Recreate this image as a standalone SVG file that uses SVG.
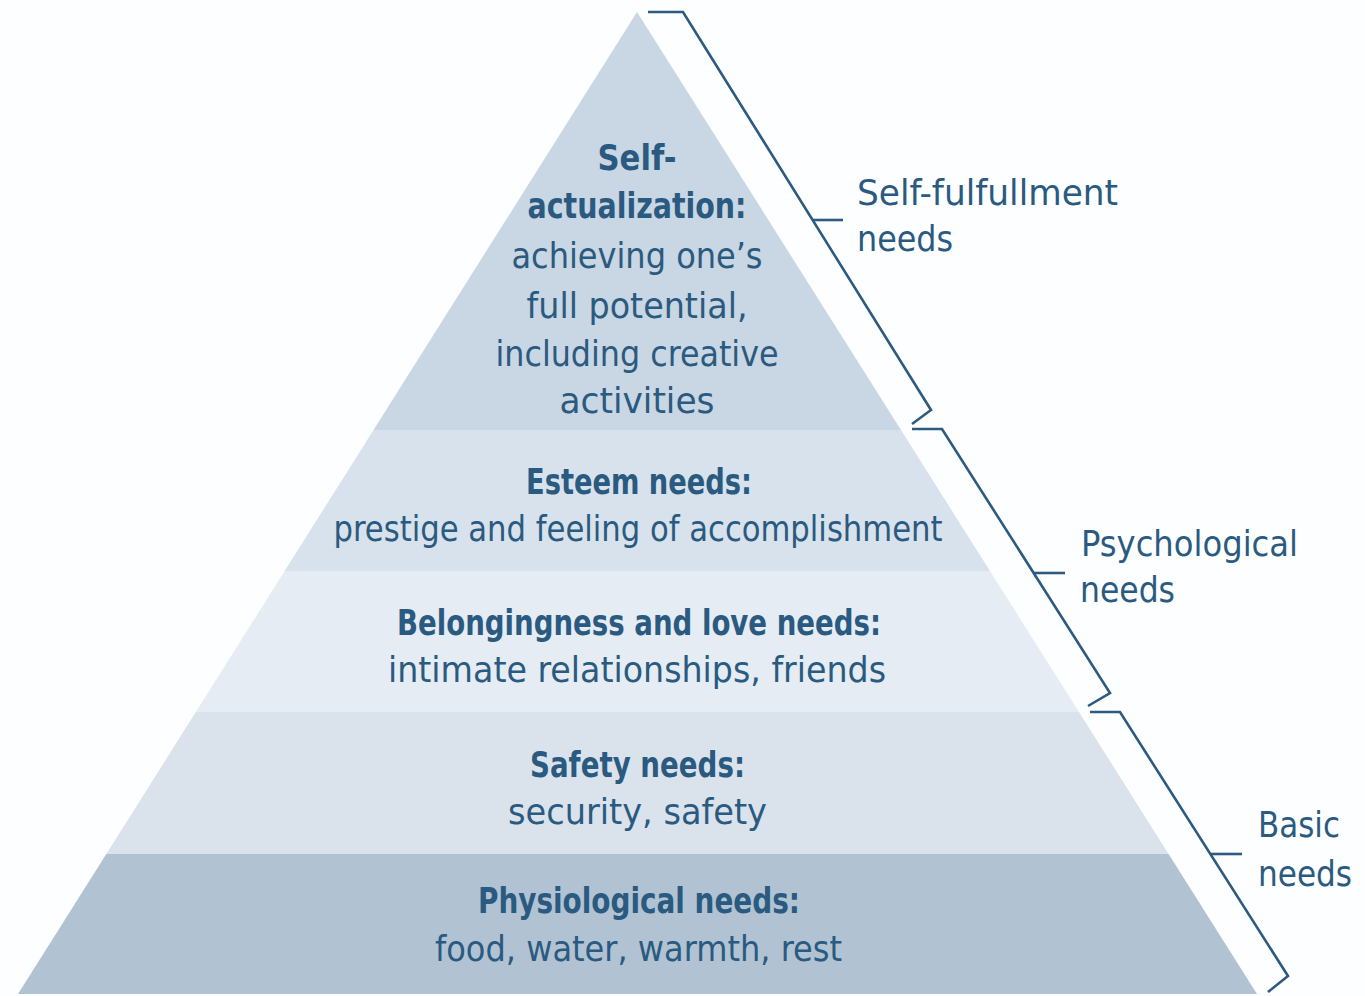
<svg xmlns="http://www.w3.org/2000/svg" width="1365" height="996" viewBox="0 0 1365 996">
<style>
.t{font-family:"Liberation Sans Narrow","DejaVu Sans Condensed","Liberation Sans",sans-serif;font-size:36px;fill:#2b5a80;text-anchor:middle}
.b{font-weight:bold}
.l{text-anchor:start}
.br{fill:none;stroke:#2d5a7e;stroke-width:2.6;stroke-linejoin:miter}
</style>
<rect width="1365" height="996" fill="#fdfeff"/>
<g id="level-self-actualization">
<polygon points="637,12 901,430 373.5,430" fill="#c9d6e3"/>
<text class="t b" x="637" y="170" textLength="79" lengthAdjust="spacingAndGlyphs">Self-</text>
<text class="t b" x="637" y="218" textLength="219" lengthAdjust="spacingAndGlyphs">actualization:</text>
<text class="t" x="637" y="268" textLength="251" lengthAdjust="spacingAndGlyphs">achieving one’s</text>
<text class="t" x="637" y="318" textLength="221" lengthAdjust="spacingAndGlyphs">full potential,</text>
<text class="t" x="637" y="366" textLength="283" lengthAdjust="spacingAndGlyphs">including creative</text>
<text class="t" x="637" y="413" textLength="155" lengthAdjust="spacingAndGlyphs">activities</text>
</g>
<g id="level-esteem">
<polygon points="373.5,430 901,430 990,571 284.7,571" fill="#d8e2ec"/>
<text class="t b" x="639" y="494" textLength="226" lengthAdjust="spacingAndGlyphs">Esteem needs:</text>
<text class="t" x="638" y="541" textLength="609" lengthAdjust="spacingAndGlyphs">prestige and feeling of accomplishment</text>
</g>
<g id="level-belongingness">
<polygon points="284.7,571 990,571 1079,712 195.8,712" fill="#e5ecf4"/>
<text class="t b" x="639" y="635" textLength="484" lengthAdjust="spacingAndGlyphs">Belongingness and love needs:</text>
<text class="t" x="637" y="682" textLength="498" lengthAdjust="spacingAndGlyphs">intimate relationships, friends</text>
</g>
<g id="level-safety">
<polygon points="195.8,712 1079,712 1168.6,854 106.3,854" fill="#dae3ec"/>
<text class="t b" x="637.5" y="777" textLength="215" lengthAdjust="spacingAndGlyphs">Safety needs:</text>
<text class="t" x="637.5" y="824" textLength="259" lengthAdjust="spacingAndGlyphs">security, safety</text>
</g>
<g id="level-physiological">
<polygon points="106.3,854 1168.6,854 1257,994 18,994" fill="#b1c3d3"/>
<text class="t b" x="639" y="913" textLength="322" lengthAdjust="spacingAndGlyphs">Physiological needs:</text>
<text class="t" x="638.5" y="961" textLength="407" lengthAdjust="spacingAndGlyphs">food, water, warmth, rest</text>
</g>
<g id="connectors">
<path class="br" d="M648,12 H683 L931,410 L912,424"/>
<path class="br" d="M813,220 H843"/>
<path class="br" d="M912,429 H942 L1110,693 L1088,706"/>
<path class="br" d="M1034,573 H1065"/>
<path class="br" d="M1090,712 H1120 L1288,976 L1268,992"/>
<path class="br" d="M1211,854 H1242"/>
</g>
<g id="label-self-fulfillment">
<text class="t l" x="857" y="205" textLength="261" lengthAdjust="spacingAndGlyphs">Self-fulfullment</text>
<text class="t l" x="857" y="251" textLength="96" lengthAdjust="spacingAndGlyphs">needs</text>
</g>
<g id="label-psychological">
<text class="t l" x="1081" y="556" textLength="217" lengthAdjust="spacingAndGlyphs">Psychological</text>
<text class="t l" x="1080" y="602" textLength="95" lengthAdjust="spacingAndGlyphs">needs</text>
</g>
<g id="label-basic">
<text class="t l" x="1258" y="837" textLength="82" lengthAdjust="spacingAndGlyphs">Basic</text>
<text class="t l" x="1258" y="886" textLength="94" lengthAdjust="spacingAndGlyphs">needs</text>
</g>
</svg>
